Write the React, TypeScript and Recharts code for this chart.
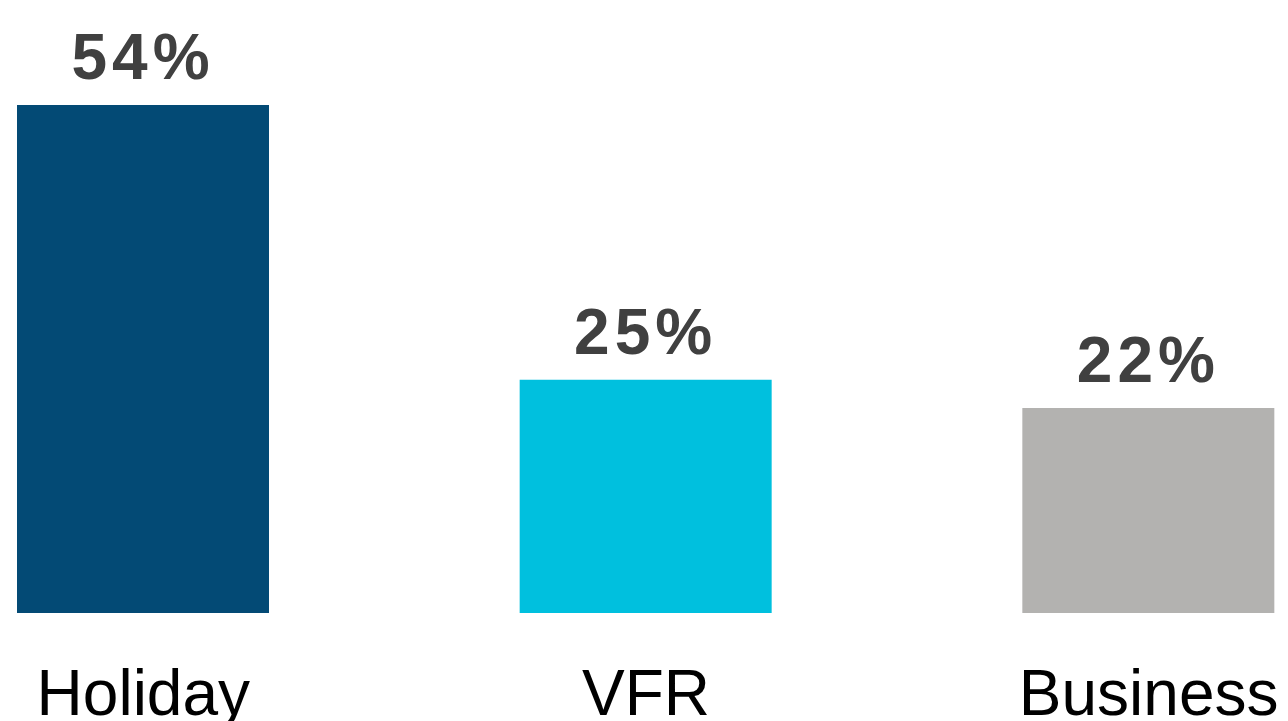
import React from 'react';
import { BarChart, Bar, XAxis, YAxis, LabelList, Cell } from 'recharts';

const categories = ['Holiday', 'VFR', 'Business'];
const shares = [54, 24.8, 21.8];
const barColors = ['#034a75', '#00c0de', '#b3b2b0'];

const data = categories.map((name, i) => ({ name, share: shares[i] }));

const CategoryTick = (props: any) => {
  const { x, payload } = props;
  return (
    <text x={x} y={715} textAnchor="middle" fontSize={64} fill="#000" fontFamily="'Liberation Sans', Arial, sans-serif">
      {payload.value}
    </text>
  );
};

const App: React.FC = () => {
  return (
    <div style={{ position: 'fixed', left: 0, top: 0, width: 1288, height: 721, overflow: 'hidden', background: '#fff' }}>
      <div style={{ position: 'absolute', left: -108, top: 0 }}>
        <BarChart width={1508} height={721} data={data} margin={{ top: 105, right: 0, bottom: 100, left: 0 }}>
          <XAxis dataKey="name" height={8} axisLine={false} tickLine={false} tick={<CategoryTick />} interval={0} />
          <YAxis hide domain={[0, 54]} />
          <Bar dataKey="share" barSize={252} isAnimationActive={false}>
            {data.map((d, i) => (
              <Cell key={d.name} fill={barColors[i]} />
            ))}
            <LabelList
              dataKey="share"
              position="top"
              offset={26}
              formatter={(v: any) => `${Math.round(Number(v))}%`}
              style={{ fontSize: 64, fontWeight: 700, fill: '#404040', fontFamily: "'Liberation Sans', Arial, sans-serif", letterSpacing: 5 }}
            />
          </Bar>
        </BarChart>
      </div>
    </div>
  );
};

export default App;
